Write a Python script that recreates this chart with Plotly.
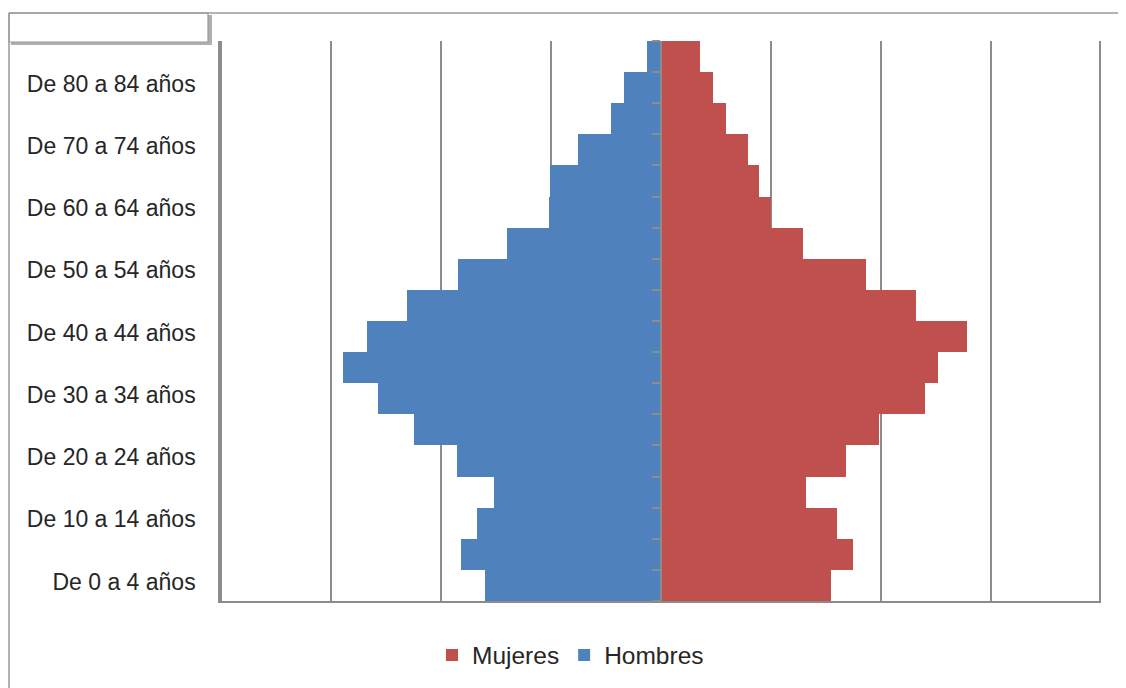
import plotly.graph_objects as go

# Age groups, bottom to top
categorias = [
    "De 0 a 4 años", "De 5 a 9 años", "De 10 a 14 años", "De 15 a 19 años",
    "De 20 a 24 años", "De 25 a 29 años", "De 30 a 34 años", "De 35 a 39 años",
    "De 40 a 44 años", "De 45 a 49 años", "De 50 a 54 años", "De 55 a 59 años",
    "De 60 a 64 años", "De 65 a 69 años", "De 70 a 74 años", "De 75 a 79 años",
    "De 80 a 84 años", "De 85 y más años",
]
hombres = [1.60, 1.82, 1.67, 1.52, 1.86, 2.25, 2.57, 2.89, 2.67, 2.31,
           1.85, 1.40, 1.02, 1.01, 0.76, 0.46, 0.34, 0.13]
mujeres = [1.54, 1.74, 1.60, 1.32, 1.68, 1.98, 2.40, 2.52, 2.78, 2.32,
           1.86, 1.29, 1.00, 0.89, 0.79, 0.59, 0.47, 0.35]
etiquetas = categorias[0:17:2]

AZUL = "#4F81BD"
ROJO = "#C0504D"
GRIS = "#8C8C8C"
FONT = "Liberation Sans, Arial, sans-serif"

W, H = 1126, 688
OFF = 8  # page body margin
# plot area in screen pixels: x 220..1099, y 41..601
L = 220 - OFF
T = 41 - OFF
R = W - (1099 - OFF)
B = H - (601 - OFF)
PW, PH = W - L - R, H - T - B

def px_x(p):
    return (p - OFF - L) / PW

def px_y(p):
    return (H - B - (p - OFF)) / PH

fig = go.Figure()
fig.add_trace(go.Bar(
    y=categorias, x=mujeres, orientation="h", name="Mujeres",
    marker=dict(color=ROJO, line=dict(width=0)),
))
fig.add_trace(go.Bar(
    y=categorias, x=[-v for v in hombres], orientation="h", name="Hombres",
    marker=dict(color=AZUL, line=dict(width=0)),
    customdata=hombres, hovertemplate="%{y}: %{customdata}<extra>Hombres</extra>",
))
# empty helper trace so the centre axis (ticks between age groups) is drawn
fig.add_trace(go.Scatter(x=[None], y=[None], yaxis="y2", showlegend=False,
                         hoverinfo="skip", mode="markers"))

n = len(categorias)
limites = [i - 0.5 for i in range(n + 1)]

shapes = [
    dict(type="rect", xref="paper", yref="paper",
         x0=px_x(11), x1=px_x(212), y0=px_y(15), y1=px_y(45),
         fillcolor="#b0b0b0", line=dict(width=0), layer="above"),
    dict(type="rect", xref="paper", yref="paper",
         x0=px_x(9), x1=px_x(208), y0=px_y(13), y1=px_y(42),
         fillcolor="white", line=dict(color="#9a9a9a", width=1.2), layer="above"),
    dict(type="line", xref="paper", yref="paper",
         x0=px_x(9), x1=px_x(1140), y0=px_y(13), y1=px_y(13),
         line=dict(color="#9a9a9a", width=1.5)),
    dict(type="line", xref="paper", yref="paper",
         x0=px_x(9), x1=px_x(9), y0=px_y(13), y1=px_y(700),
         line=dict(color="#9a9a9a", width=1.5)),
]

fig.update_layout(
    width=W, height=H,
    margin=dict(l=L, r=R, t=T, b=B, pad=0),
    paper_bgcolor="white", plot_bgcolor="white",
    barmode="relative", bargap=0,
    font=dict(family=FONT, size=23, color="#262626"),
    showlegend=True,
    legend=dict(orientation="h", x=px_x(432), xanchor="left",
                y=px_y(655), yanchor="middle",
                font=dict(family=FONT, size=24.5, color="#262626"),
                itemwidth=30, tracegroupgap=0, traceorder="normal"),
    xaxis=dict(range=[-4.01, 3.98], dtick=1, tick0=0,
               showgrid=True, gridcolor=GRIS, gridwidth=1.5,
               zeroline=False, showticklabels=False, ticks="",
               showline=True, linecolor=GRIS, linewidth=1.5, fixedrange=True),
    yaxis=dict(type="category", categoryorder="array", categoryarray=categorias,
               range=[-0.5, n - 0.5], tickvals=etiquetas, ticktext=etiquetas,
               ticks="", showgrid=False, zeroline=False,
               showline=True, mirror=True, linecolor=GRIS, linewidth=1.5,
               ticklabelstandoff=18, ticklabelshift=-4,
               tickfont=dict(size=23, color="#262626"),
               fixedrange=True),
    yaxis2=dict(overlaying="y", anchor="free", position=px_x(661), side="left",
                range=[-0.5, n - 0.5], tickvals=limites, ticks="outside",
                ticklen=8, tickcolor=GRIS, tickwidth=1.5,
                showticklabels=False, showgrid=False, zeroline=False,
                showline=True, linecolor=GRIS, linewidth=1.5,
                layer="above traces", fixedrange=True),
    shapes=shapes,
)

fig.write_html("out.html")
